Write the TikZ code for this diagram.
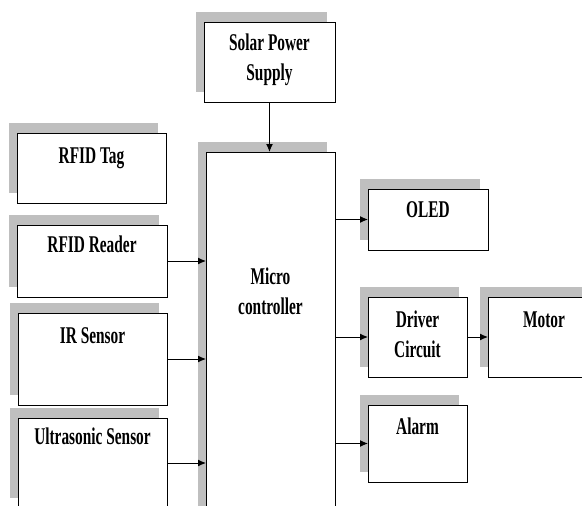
\documentclass[tikz,border=0pt]{standalone}
\usepackage{fontspec}
\setmainfont{Liberation Serif}[FakeStretch=0.64]
\usetikzlibrary{positioning,shadows,arrows.meta}

\tikzset{
  blk/.style={draw, fill=white, line width=1pt, inner sep=0pt, outer sep=0pt,
    align=center, anchor=north west, font=\fontsize{24}{30}\selectfont\bfseries,
    drop shadow={shadow xshift=-8pt, shadow yshift=10pt, fill=black!25, opacity=1}},
  link/.style={line width=1pt, -{Latex[length=8pt,width=7pt]}}
}

\begin{document}
\begin{tikzpicture}[x=1pt,y=-1pt]
\useasboundingbox (0,0) rectangle (582,506);
\clip (0,0) rectangle (582,506);
% left column
\node[blk, minimum width=149, text height=30, text depth=40] (tag) at (17,133) {RFID Tag};
\node[blk, minimum width=150, text height=27, text depth=45] (reader) at (17,225) {RFID Reader};
\node[blk, minimum width=149, text height=30, text depth=62] (ir) at (18,313) {IR Sensor};
\node[blk, minimum width=149, text height=26, text depth=64] (us) at (18,418) {Ultrasonic Sensor};
% middle (text height = baseline of last line)
\node[blk, minimum width=131, text height=58, text depth=22] (solar) at (204,22) {Solar Power\\Supply};
\node[blk, minimum width=129, text height=162, text depth=216] (micro) at (206,152) {Micro\\controller};
% right column
\node[blk, minimum width=120, text height=28, text depth=33] (oled) at (368,189) {OLED};
\node[blk, minimum width=99, text height=60, text depth=20] (driver) at (368,297) {Driver\\Circuit};
\node[blk, minimum width=112, text height=30, text depth=50] (motor) at (488,297) {Motor};
\node[blk, minimum width=99, text height=29, text depth=48] (alarm) at (368,405) {Alarm};

\draw[link] (solar.south) -- (solar.south |- micro.north);
\draw[link] (reader.east) -- (reader.east -| micro.west);
\draw[link] (ir.east) -- (ir.east -| micro.west);
\draw[link] (us.east) -- (us.east -| micro.west);
\draw[link] (micro.east |- oled.west) -- (oled.west);
\draw[link] (micro.east |- driver.west) -- (driver.west);
\draw[link] (micro.east |- alarm.west) -- (alarm.west);
\draw[link] (driver.east) -- (motor.west);
\end{tikzpicture}
\end{document}
